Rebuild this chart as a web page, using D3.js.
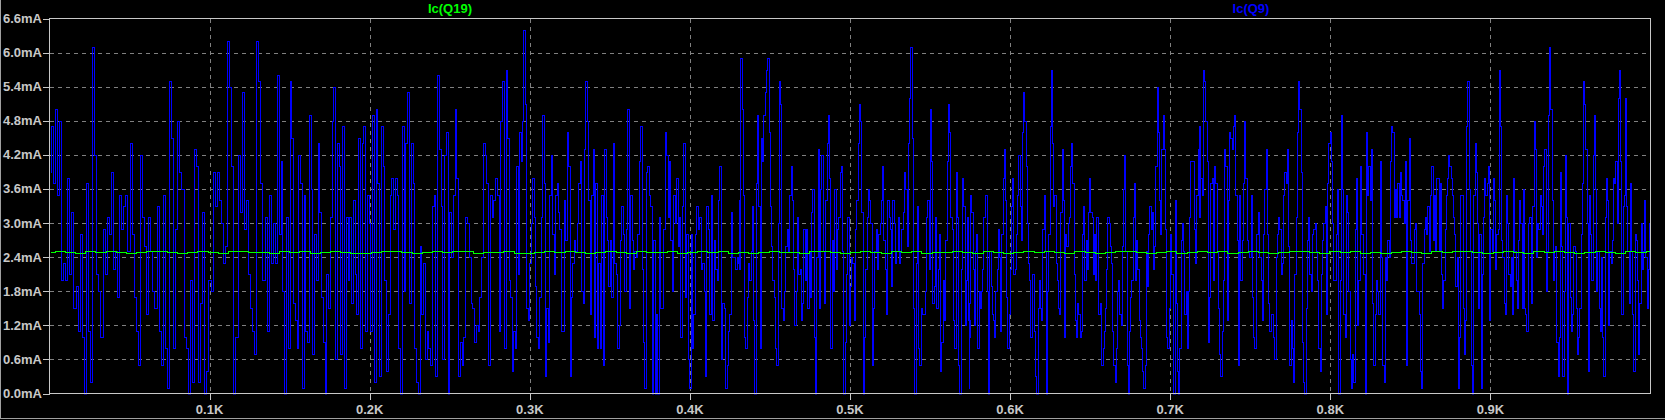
<!DOCTYPE html>
<html><head><meta charset="utf-8">
<script src="https://cdn.jsdelivr.net/npm/d3@7"></script>
<style>html,body{margin:0;padding:0;background:#000;overflow:hidden}</style>
</head><body><svg id="c" width="1665" height="420"></svg>
<script>
// ---- axis ticks ----
const xTicks = [100, 200, 300, 400, 500, 600, 700, 800, 900];
const xTickLabels = ["0.1K", "0.2K", "0.3K", "0.4K", "0.5K", "0.6K", "0.7K", "0.8K", "0.9K"];
const yTicks = [0, 0.6, 1.2, 1.8, 2.4, 3.0, 3.6, 4.2, 4.8, 5.4, 6.0, 6.6];
const yTickLabels = ["0.0mA", "0.6mA", "1.2mA", "1.8mA", "2.4mA", "3.0mA", "3.6mA", "4.2mA", "4.8mA", "5.4mA", "6.0mA", "6.6mA"];
const seriesNames = ["Ic(Q19)", "Ic(Q9)"];

// ---- Ic(Q9), in consecutive x-segments ----
const segmentStarts = [0, 142.7, 286.4, 430.0, 573.7, 717.4, 861.0];
const segmentEnds = [144.0, 287.6, 431.3, 575.0, 718.7, 862.4, 1000];
const ic_q9_seg0 = [3.9,4.7,3.7,5.0,3.5,4.8,2.0,2.3,2.0,3.8,2.1,3.2,1.5,1.9,1.1,2.8,1.0,0.0,3.7,1.1,0.2,6.1,4.2,2.1,1.8,1.0,2.9,2.1,3.1,2.8,3.9,2.2,2.5,1.7,3.5,2.9,3.3,3.5,2.5,4.4,2.8,1.7,1.1,0.5,4.2,3.1,2.6,1.4,3.1,2.5,1.8,1.5,3.3,1.1,0.5,3.5,0.8,0.1,5.5,4.5,0.8,2.9,4.8,3.9,3.6,1.0,0.8,0.0,2.0,0.2,4.3,4.0,0.2,1.6,3.2,0.0,0.4,2.0,1.8,3.9,3.3,3.9,3.4,3.0,2.3,2.6,6.2,5.4,4.0,0.0,1.0,4.2,3.2,5.3,2.9,3.4,2.1,1.5,1.1,0.7,6.2,5.5,3.7,2.0,3.1,1.1,3.5,2.3,3.0,2.3,5.6,4.7];
const ic_q9_seg1 = [5.6,2.8,4.1,1.8,0.0,3.1,0.8,5.5,4.5,1.6,1.3,0.8,4.2,3.7,0.1,3.5,1.1,0.9,4.9,3.6,0.7,2.8,2.0,4.4,3.2,1.7,0.9,0.0,2.1,1.5,3.1,4.8,5.4,0.6,4.4,4.0,0.7,4.7,0.1,3.1,2.0,3.1,1.6,3.4,2.1,1.4,4.5,0.8,4.4,4.7,1.1,3.5,3.0,1.1,4.9,0.2,5.0,3.7,0.3,4.7,4.0,2.0,0.4,1.4,3.5,3.8,2.9,3.8,3.5,0.8,0.0,4.7,1.8,4.4,5.3,1.6,4.4,3.7,0.8,0.2,0.0,2.6,1.4,2.3,0.6,1.1,0.8,0.5,3.3,3.5,0.3,5.6,4.3,3.3,0.6,4.2,4.6,0.0,3.2,2.4,3.5,5.0,3.8,0.3,0.9,0.5,1.0,3.1,3.0,2.4,1.6,1.5,0.9,1.2,1.1,1.7,2.4,4.4,4.2,3.7,0.5,3.5,3.1,3.4,3.8,3.5,1.1,4.8,5.5,0.8,5.7,4.5,2.0];
const ic_q9_seg2 = [3.9,2.0,1.7,0.4,1.1,0.8,4.0,2.1,4.6,4.1,4.8,6.4,5.1,1.5,1.3,2.3,3.0,3.8,3.1,1.9,1.0,0.8,1.7,3.1,4.9,3.7,0.3,1.5,0.9,3.5,4.2,2.8,2.1,3.5,3.7,3.2,2.9,1.1,1.1,3.4,2.7,4.6,4.0,0.3,1.7,2.3,2.7,2.5,3.0,3.7,4.1,1.8,1.6,4.3,5.5,4.8,3.4,1.4,3.5,4.3,1.0,3.7,0.8,2.3,0.8,3.5,0.5,4.3,3.1,2.7,1.9,2.7,1.7,4.4,2.3,2.1,0.8,1.2,2.7,3.3,2.8,1.8,2.9,5.0,1.5,3.5,2.7,2.2,2.5,2.4,2.8,4.1,4.7,2.2,0.9,0.1,3.9,4.0,3.5,3.3,0.0,2.7,0.0,1.4,0.0,3.1,1.5,1.5,2.9,4.6,4.2,3.1,4.1,2.7,1.8,3.5,3.0,3.8,2.6,3.1,1.0,3.3,4.4,1.7,2.8,0.6,0.1,2.8,0.8,1.4,2.8,3.3,2.9,3.1,2.2,2.3,1.8,0.3,3.3,2.9,1.4,3.5,1.3,2.7,2.2,2.0,3.4,4.0,0.6,1.6,1.5,0.1,0.5,1.1,1.4,3.2,2.4,2.4,2.2,2.4,2.3,3.4];
const ic_q9_seg3 = [2.4,2.2,5.9,5.0,3.5,1.0,0.8,1.7,2.3,2.0,2.5,3.3,1.3,0.0,3.7,4.9,3.3,0.8,4.5,4.1,4.9,5.3,5.7,5.9,4.6,3.3,2.6,2.0,1.7,0.8,0.5,3.0,5.5,5.1,1.5,1.3,1.8,2.6,2.9,2.5,3.5,4.0,3.4,2.2,1.2,1.8,3.1,2.1,2.2,1.3,1.6,2.9,2.0,2.9,1.5,2.5,1.7,3.2,3.6,1.0,0.0,2.4,4.3,1.5,3.6,4.2,2.5,1.6,3.4,4.4,4.9,3.8,0.8,2.7,1.8,3.6,2.2,2.9,3.1,3.9,4.0,2.5,0.0,0.9,2.1,3.1,1.2,1.9,2.4,2.3,1.3,2.9,3.4,4.4,5.1,4.8,3.2,0.0,1.0,2.2,3.1,3.6,3.4,3.0,0.5,1.5,2.5,2.9,2.2,2.8,3.0,3.4,4.0,2.7,2.2,1.4,3.4,3.1,2.9,1.9,3.4,3.0,2.3,2.5,3.1,2.3,2.5,2.9,3.2,3.9,3.6,2.6,4.4,5.2,6.1,4.5,1.5,0.0,2.3,3.3,0.8,0.5,1.5,1.4,1.4,1.8,3.1,3.4,2.2,5.0,4.1,1.6,1.9,3.1,1.5,2.2,2.8,0.4,0.9,2.0,1.3,2.7,4.1,5.1,4.6,3.1,2.9,1.3,0.8,3.9,3.1,0.5,0.0,2.2,3.8,3.3,1.2,2.0,3.1,1.3,1.0];
const ic_q9_seg4 = [0.1,1.6,3.5,3.2,2.2,1.2,2.5,2.8,0.8,1.8,1.5,1.8,2.2,3.1,3.5,3.5,1.8,0.0,2.5,1.9,1.4,1.3,1.0,1.8,2.2,2.9,2.4,1.1,2.8,3.8,4.3,3.4,1.7,0.8,1.4,2.2,3.3,3.8,2.1,2.2,2.8,3.5,4.2,3.3,2.7,4.6,5.3,4.8,4.0,3.0,2.3,2.0,1.0,2.1,2.1,1.1,0.3,0.0,1.5,2.0,1.5,1.3,2.9,3.5,2.5,0.0,1.8,2.8,4.7,5.7,4.4,3.3,3.5,2.3,2.0,1.5,1.4,3.2,4.3,3.4,1.0,2.8,2.6,3.0,3.1,4.0,4.4,3.7,2.1,1.3,1.0,1.6,1.4,1.0,1.1,2.8,3.3,2.0,2.7,2.2,3.2,3.8,3.2,3.1,2.1,2.8,2.0,3.1,1.4,1.4,1.6,0.5,0.8,1.1,1.5,2.2,3.1,3.0,2.6,2.3,1.1,0.5,0.2,0.8,1.8,2.0,1.4,1.2,2.6,3.6,4.2,2.5,0.5,0.0,1.1,1.7,2.0,3.1,3.7,2.0,2.7,2.2,1.3,1.0,0.8,0.4,0.1,0.5,2.5,1.9,2.8,3.3,2.9,3.2,2.2,2.6,4.0,5.4,4.6,3.4,2.8,4.3,4.9,4.3,2.9,1.0,0.8,1.5,2.8,2.1,2.1,0.0,3.4,1.6,0.4,0.0,0.8,2.7,3.0,2.5,1.4,1.8,0.8,1.8,3.1,4.1,4.1,4.1,2.9,2.3,3.5,4.3,4.7,3.1];
const ic_q9_seg5 = [4.3,3.5,3.8,3.5,5.7,5.5,4.8,4.1,0.9,1.7,3.7,3.8,2.0,4.0,3.7,2.5,1.5,0.7,0.3,1.1,2.0,4.3,4.0,1.3,3.4,4.6,4.5,4.3,4.7,4.9,3.5,2.7,0.5,3.5,2.0,2.7,3.7,4.8,3.8,2.7,2.5,2.4,3.5,1.7,1.0,0.8,2.8,2.8,3.2,2.4,2.0,1.3,2.8,3.6,4.3,2.8,1.6,1.1,1.4,1.4,1.0,0.6,2.4,2.8,3.1,2.9,2.1,2.3,3.5,3.9,3.7,4.3,2.6,0.5,1.3,0.8,0.2,2.1,3.1,4.6,5.5,5.0,3.9,0.9,0.2,0.0,1.5,2.7,3.1,2.1,1.8,2.8,2.9,3.0,2.5,2.0,0.8,0.4,2.1,2.7,3.0,3.3,1.4,3.7,4.4,4.6,4.1,3.0,2.0,2.0,2.8,3.6,0.0,2.0,4.9,3.6,1.4,1.0,3.5,3.2,1.8,0.6,0.1,0.7,0.2,2.9,3.8,1.2,2.0,4.0,2.8,2.8,2.1,0.0,4.6,3.5,4.0,3.4,4.3,1.6,0.5,1.4,2.0,1.8,1.4,4.1,2.4,0.5,0.2,2.4,2.0,2.7,2.4,4.1,4.7,4.6,3.1,3.6,3.1,3.7,3.1,3.9,3.5,3.4,3.0,4.1,0.5,3.4,4.5,2.7,2.3,2.3,2.9,3.0,1.8,1.8,1.4,0.4,0.1,2.3,2.9,3.1,2.8,3.3,3.1,2.7];
const ic_q9_seg6 = [3.3,2.5,3.5,4.0,2.7,3.5,2.5,3.8,3.8,2.5,3.7,2.1,1.5,2.0,2.9,3.5,3.8,4.2,4.0,3.8,3.5,3.1,2.8,1.9,2.4,0.1,1.0,3.5,3.5,1.5,0.7,1.3,4.7,5.5,3.6,2.5,0.5,0.0,3.5,4.4,3.9,3.0,1.5,2.8,0.1,2.1,3.1,3.8,3.5,3.7,4.0,1.3,2.9,2.5,3.8,3.4,2.2,2.8,2.9,5.7,4.7,2.7,2.4,1.6,1.4,3.5,3.0,2.1,1.9,2.4,1.4,3.8,2.5,2.0,1.5,2.7,3.4,3.0,1.5,3.6,1.5,1.4,1.1,3.0,3.1,3.1,1.6,3.3,4.8,4.3,2.4,3.0,2.9,3.5,3.3,2.8,4.0,4.3,1.8,2.5,4.9,6.1,5.0,3.4,2.0,2.5,2.6,0.9,0.3,1.0,3.9,2.6,0.3,1.8,4.2,3.1,0.0,3.0,1.7,1.1,1.4,2.6,2.5,1.5,0.7,1.0,1.5,2.8,3.7,5.5,5.1,4.3,3.0,0.4,3.5,2.8,2.0,4.2,4.9,3.6,1.8,2.5,1.5,1.1,2.4,1.0,0.3,3.1,3.8,3.4,1.2,2.5,2.3,2.7,3.8,3.7,4.1,3.0,5.2,5.7,4.1,1.4,3.3,3.5,5.2,3.3,2.5,1.6,3.7,2.5,1.4,0.4,2.8,2.7,2.0,0.7,1.6,3.0,2.2,2.5,3.4,2.4,1.5,2.2,3.0,2.8];

// ---- Ic(Q19): nearly flat trace ----
const ic_q19 = [2.49,2.50,2.49,2.48,2.50,2.49,2.51,2.49,2.48,2.49,2.50,2.50,2.49,2.47,2.49,2.50,2.49,2.48,2.50,2.51,2.49,2.49,2.48,2.50,2.49,2.50,2.48,2.49,2.51,2.49,2.48,2.47,2.49,2.50,2.50,2.49,2.48,2.49,2.50,2.49,2.51,2.50,2.48,2.49,2.49,2.50,2.48,2.47,2.49,2.50,2.49,2.51,2.49,2.48,2.49,2.50,2.49,2.48,2.50,2.49,2.49,2.50,2.48,2.49,2.51,2.49,2.50,2.48,2.49,2.47,2.49,2.50,2.49,2.49,2.48,2.50,2.51,2.49,2.48,2.49,2.50,2.49,2.48,2.50,2.49,2.50,2.48,2.49,2.49,2.51,2.49,2.48,2.50,2.49,2.48,2.49,2.50,2.49,2.51,2.49,2.48,2.50,2.49,2.47,2.49,2.50,2.51,2.49,2.48,2.49,2.50,2.48,2.49,2.50,2.49,2.51,2.48,2.49,2.50,2.49,2.48,2.49,2.50,2.50,2.49,2.48,2.51,2.49,2.50,2.48,2.49,2.47,2.49,2.50,2.49,2.48,2.50,2.49,2.51,2.50,2.49,2.48,2.49,2.50,2.49,2.48,2.50,2.49,2.51,2.49,2.48,2.49,2.50,2.49,2.48,2.50,2.49,2.50];

// ---- build ----
const W = 1665, H = 420;
const svg = d3.select("#c");
svg.append("rect").attr("width", W).attr("height", H).attr("fill", "#000");

const pL = 49.5, pR = 1650.5, pT = 18.5, pB = 393.5;
const xS = d3.scaleLinear().domain([0, 1000]).range([pL, pR]);
const yS = d3.scaleLinear().domain([0, 6.6]).range([pB, pT]);

const fontFam = "'Liberation Sans', Arial, sans-serif";
const labelColor = "#c8c8c8";
const gridColor = "#808080";

// window border lines
svg.append("line").attr("x1", 0.5).attr("x2", 0.5).attr("y1", 0).attr("y2", 419)
  .attr("stroke", "#a0a0a0");
svg.append("line").attr("x1", 0).attr("x2", W).attr("y1", 418.5).attr("y2", 418.5)
  .attr("stroke", "#a0a0a0");

// grid
const gGrid = svg.append("g").attr("shape-rendering", "crispEdges");
gGrid.selectAll(".vg").data(xTicks).enter().append("line")
  .attr("x1", d => Math.round(xS(d)) + 0.5).attr("x2", d => Math.round(xS(d)) + 0.5)
  .attr("y1", pT).attr("y2", pB)
  .attr("stroke", gridColor).attr("stroke-dasharray", "4,4");
gGrid.selectAll(".hg").data(yTicks.slice(1, -1)).enter().append("line")
  .attr("x1", pL).attr("x2", pR)
  .attr("y1", d => Math.round(yS(d)) + 0.5).attr("y2", d => Math.round(yS(d)) + 0.5)
  .attr("stroke", gridColor).attr("stroke-dasharray", "4,4");

// Ic(Q9) points
const segs = [ic_q9_seg0, ic_q9_seg1, ic_q9_seg2, ic_q9_seg3, ic_q9_seg4, ic_q9_seg5, ic_q9_seg6];
const q9pts = [];
segs.forEach((arr, k) => {
  const s = segmentStarts[k], e = segmentEnds[k], n = arr.length;
  arr.forEach((v, i) => q9pts.push([s + (e - s) * i / (n - 1), v]));
});
const q19pts = ic_q19.map((v, i) => [1000 * i / (ic_q19.length - 1), v]);

const stepGen = d3.line().curve(d3.curveStep)
  .x(d => Math.round(xS(d[0])) + 0.5).y(d => Math.round(yS(d[1])) + 0.5);

svg.append("clipPath").attr("id", "clp").append("rect")
  .attr("x", pL).attr("y", pT).attr("width", pR - pL).attr("height", pB - pT + 1);

svg.append("path").datum(q9pts).attr("d", stepGen)
  .attr("fill", "none").attr("stroke", "#0000ff").attr("stroke-width", 1)
  .attr("shape-rendering", "crispEdges")
  .attr("clip-path", "url(#clp)");
svg.append("path").datum(q19pts).attr("d", stepGen)
  .attr("fill", "none").attr("stroke", "#00ff00").attr("stroke-width", 1)
  .attr("shape-rendering", "crispEdges")
  .attr("clip-path", "url(#clp)");

// frame
svg.append("rect").attr("x", pL).attr("y", pT).attr("width", pR - pL).attr("height", pB - pT)
  .attr("fill", "none").attr("stroke", labelColor).attr("shape-rendering", "crispEdges");

// y axis ticks + labels
const ya = svg.append("g").attr("shape-rendering", "crispEdges");
ya.selectAll("line").data(yTicks).enter().append("line")
  .attr("x1", 43).attr("x2", pL)
  .attr("y1", d => Math.round(yS(d)) + 0.5).attr("y2", d => Math.round(yS(d)) + 0.5)
  .attr("stroke", labelColor);
svg.append("g").selectAll("text").data(yTicks).enter().append("text")
  .attr("x", 42).attr("y", d => yS(d) + 4.5)
  .attr("text-anchor", "end").attr("fill", labelColor)
  .attr("font-family", fontFam).attr("font-weight", "bold").attr("font-size", "13px")
  .text((d, i) => yTickLabels[i]);

// x axis ticks + labels
const xa = svg.append("g").attr("shape-rendering", "crispEdges");
xa.selectAll("line").data(xTicks).enter().append("line")
  .attr("x1", d => Math.round(xS(d)) + 0.5).attr("x2", d => Math.round(xS(d)) + 0.5)
  .attr("y1", pB).attr("y2", 400)
  .attr("stroke", labelColor);
svg.append("g").selectAll("text").data(xTicks).enter().append("text")
  .attr("x", d => xS(d)).attr("y", 414)
  .attr("text-anchor", "middle").attr("fill", labelColor)
  .attr("font-family", fontFam).attr("font-weight", "bold").attr("font-size", "13px")
  .text((d, i) => xTickLabels[i]);

// trace names
svg.append("text").attr("x", 450).attr("y", 13).attr("text-anchor", "middle")
  .attr("fill", "#00ff00").attr("font-family", fontFam).attr("font-weight", "bold").attr("font-size", "13px")
  .text(seriesNames[0]);
svg.append("text").attr("x", 1251).attr("y", 13).attr("text-anchor", "middle")
  .attr("fill", "#0000ff").attr("font-family", fontFam).attr("font-weight", "bold").attr("font-size", "13px")
  .text(seriesNames[1]);
</script></body></html>
